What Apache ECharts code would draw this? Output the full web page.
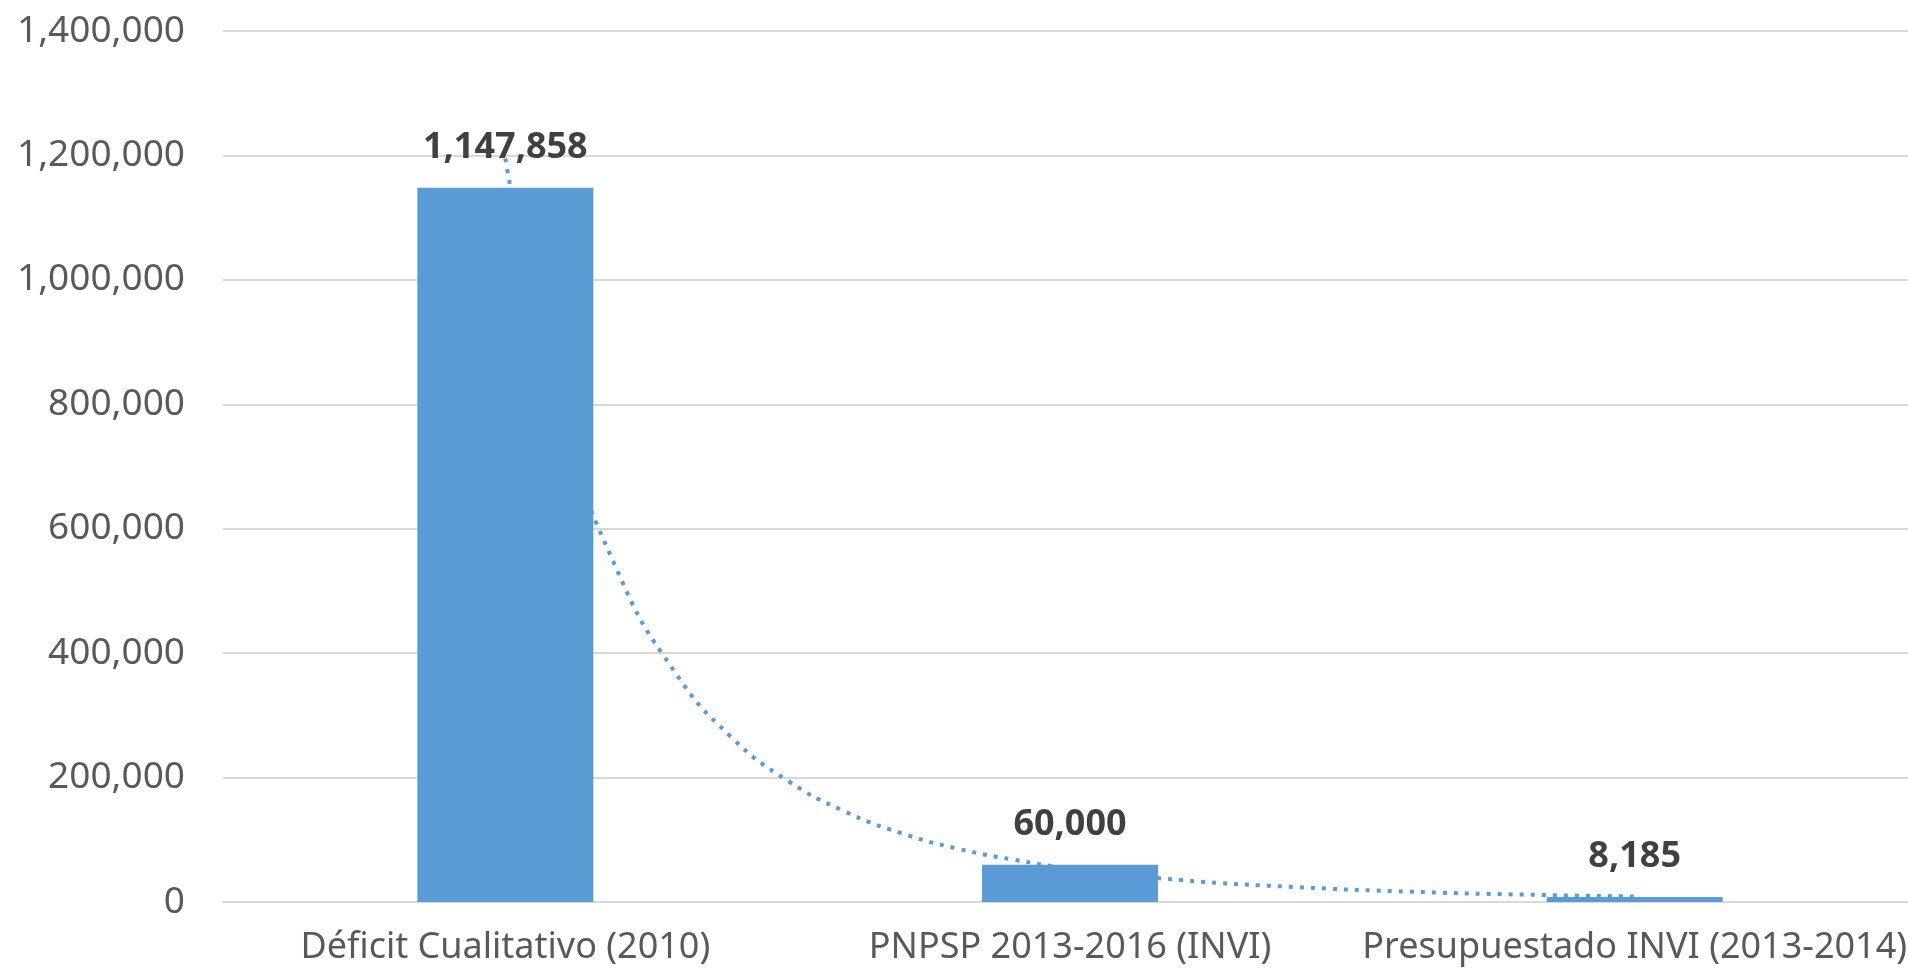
<!DOCTYPE html>
<html>
<head>
<meta charset="utf-8">
<script src="https://cdn.jsdelivr.net/npm/echarts@6/dist/echarts.min.js"></script>
<style>
html,body{margin:0;padding:0;background:#fff;overflow:hidden;width:1908px;height:973px;}
#chart{width:1930px;height:973px;}
</style>
</head>
<body>
<div id="chart"></div>
<script>
var categories = ['Déficit Cualitativo (2010)', 'PNPSP 2013-2016 (INVI)', 'Presupuestado INVI (2013-2014)'];
var values = [1147858, 60000, 8185];
// dotted trend curve (position in category units, value)
var trendX = [1.0, 1.1, 1.2, 1.3, 1.4, 1.5, 1.6, 1.7, 1.8, 1.9, 2.0, 2.2, 2.4, 2.6, 2.8, 3.0];
var trendY = [1195000, 780000, 529000, 370000, 265000, 195000, 146000, 111000, 86000, 68000, 54000, 35000, 24000, 16600, 11900, 8800];
var yTicks = [0, 200000, 400000, 600000, 800000, 1000000, 1200000, 1400000];

var fmt = function (v) { return Number(v).toLocaleString('en-US'); };
var FONT = 'Noto Sans';

var chart = echarts.init(document.getElementById('chart'), null, {renderer: 'canvas'});
chart.setOption({
  animation: false,
  backgroundColor: '#ffffff',
  grid: {left: 223, top: 31, right: 13, bottom: 71, containLabel: false},
  xAxis: [{
    type: 'category',
    data: categories,
    axisTick: {show: false},
    axisLine: {show: true, lineStyle: {color: '#d9d9d9', width: 2}},
    axisLabel: {color: '#595959', fontSize: 36, fontFamily: FONT, margin: 28, interval: 0}
  }, {
    type: 'value', min: 0.5, max: 3.5, show: false
  }],
  yAxis: {
    type: 'value',
    min: yTicks[0],
    max: yTicks[yTicks.length - 1],
    interval: 200000,
    axisLine: {show: false},
    axisTick: {show: false},
    splitLine: {lineStyle: {color: '#d9d9d9', width: 2}},
    axisLabel: {color: '#595959', fontSize: 37, fontFamily: FONT, margin: 38, formatter: fmt}
  },
  series: [{
    type: 'line',
    xAxisIndex: 1,
    z: 1,
    smooth: true,
    symbol: 'none',
    data: trendX.map(function (x, i) { return [x, trendY[i]]; }),
    lineStyle: {color: '#5b9bd5', width: 4, type: [4, 7]}
  }, {
    type: 'bar',
    xAxisIndex: 0,
    z: 2,
    data: values,
    barWidth: 176,
    itemStyle: {color: '#5b9bd5'},
    label: {
      show: true, position: 'top', distance: 22,
      color: '#404040', fontSize: 36, fontWeight: 'bold', fontFamily: FONT,
      formatter: function (p) { return fmt(p.value); }
    }
  }]
});
</script>
</body>
</html>
